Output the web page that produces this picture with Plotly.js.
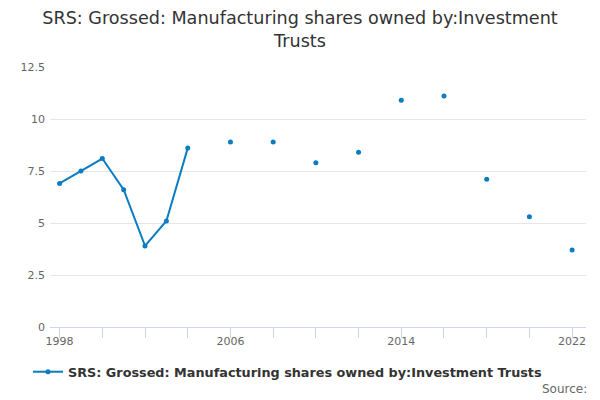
<!DOCTYPE html>
<html>
<head>
<meta charset="utf-8">
<script src="https://cdn.plot.ly/plotly-3.0.1.min.js"></script>
<style>body{margin:0;padding:0;background:#fff}#chart{width:600px;height:400px}</style>
</head>
<body>
<div id="chart"></div>
<script>
var years = [1998, 1999, 2000, 2001, 2002, 2003, 2004, 2005, 2006, 2007, 2008, 2009, 2010, 2011, 2012, 2013, 2014, 2015, 2016, 2017, 2018, 2019, 2020, 2021, 2022];
var values = [6.9, 7.5, 8.1, 6.6, 3.9, 5.1, 8.6, null, 8.9, null, 8.9, null, 7.9, null, 8.4, null, 10.9, null, 11.1, null, 7.1, null, 5.3, null, 3.7];
var tickVals = [1998, 2006, 2014, 2022];
var seriesName = "SRS: Grossed: Manufacturing shares owned by:Investment Trusts";
var titleText = "SRS: Grossed: Manufacturing shares owned by:Investment<br>Trusts";

var trace = {
  x: years, y: values, name: seriesName, type: 'scatter', mode: 'lines+markers',
  connectgaps: false,
  line: {color: '#0a7cc1', width: 2},
  marker: {color: '#0a7cc1', size: 5}
};
var layout = {
  width: 600, height: 400,
  paper_bgcolor: '#fff', plot_bgcolor: '#fff',
  font: {family: 'DejaVu Sans, sans-serif', color: '#666', size: 11},
  title: {text: titleText, font: {size: 17.6, color: '#333'}, x: 0.5, xanchor: 'center', yref: 'container', y: 0.94, yanchor: 'top'},
  margin: {l: 50, r: 14, t: 67, b: 73, autoexpand: false},
  showlegend: true,
  legend: {orientation: 'h', x: 0.444, xanchor: 'center', y: -0.115, yanchor: 'top', font: {size: 12.8, color: '#333', family: 'DejaVu Sans, sans-serif', weight: 'bold'}},
  xaxis: {
    range: [1997.55, 2022.65], tickmode: 'array', tickvals: tickVals, ticktext: tickVals.map(String),
    showgrid: false, zeroline: false, showline: true, linecolor: '#ccd6eb', linewidth: 1,
    ticks: '', ticklabelstandoff: 4, tickfont: {size: 11, color: '#666'}
  },
  xaxis2: {
    overlaying: 'x', matches: 'x', range: [1997.55, 2022.65], tickmode: 'linear', tick0: 1998, dtick: 2,
    showticklabels: false, ticks: 'outside', ticklen: 10, tickcolor: '#ccd6eb', showgrid: false, zeroline: false, side: 'bottom', anchor: 'y'
  },
  yaxis: {
    range: [0, 12.5], tickvals: [0, 2.5, 5, 7.5, 10, 12.5], ticktext: ['0','2.5','5','7.5','10','12.5'],
    showgrid: true, gridcolor: '#e6e6e6', zeroline: false, showline: false, ticks: '', ticklen: 0,
    ticklabelstandoff: 4, tickfont: {size: 11, color: '#666'}
  },
  annotations: [{text: 'Source:', xref: 'paper', yref: 'paper', x: 1.005, xanchor: 'right', y: -0.24, yanchor: 'middle', showarrow: false, font: {size: 12, color: '#666'}}]
};
var dummy = {x: [1998], y: [null], xaxis: 'x2', yaxis: 'y', showlegend: false, hoverinfo: 'skip', type: 'scatter', mode: 'markers'};
Plotly.newPlot('chart', [trace, dummy], layout, {displayModeBar: false, staticPlot: true});
</script>
</body>
</html>
